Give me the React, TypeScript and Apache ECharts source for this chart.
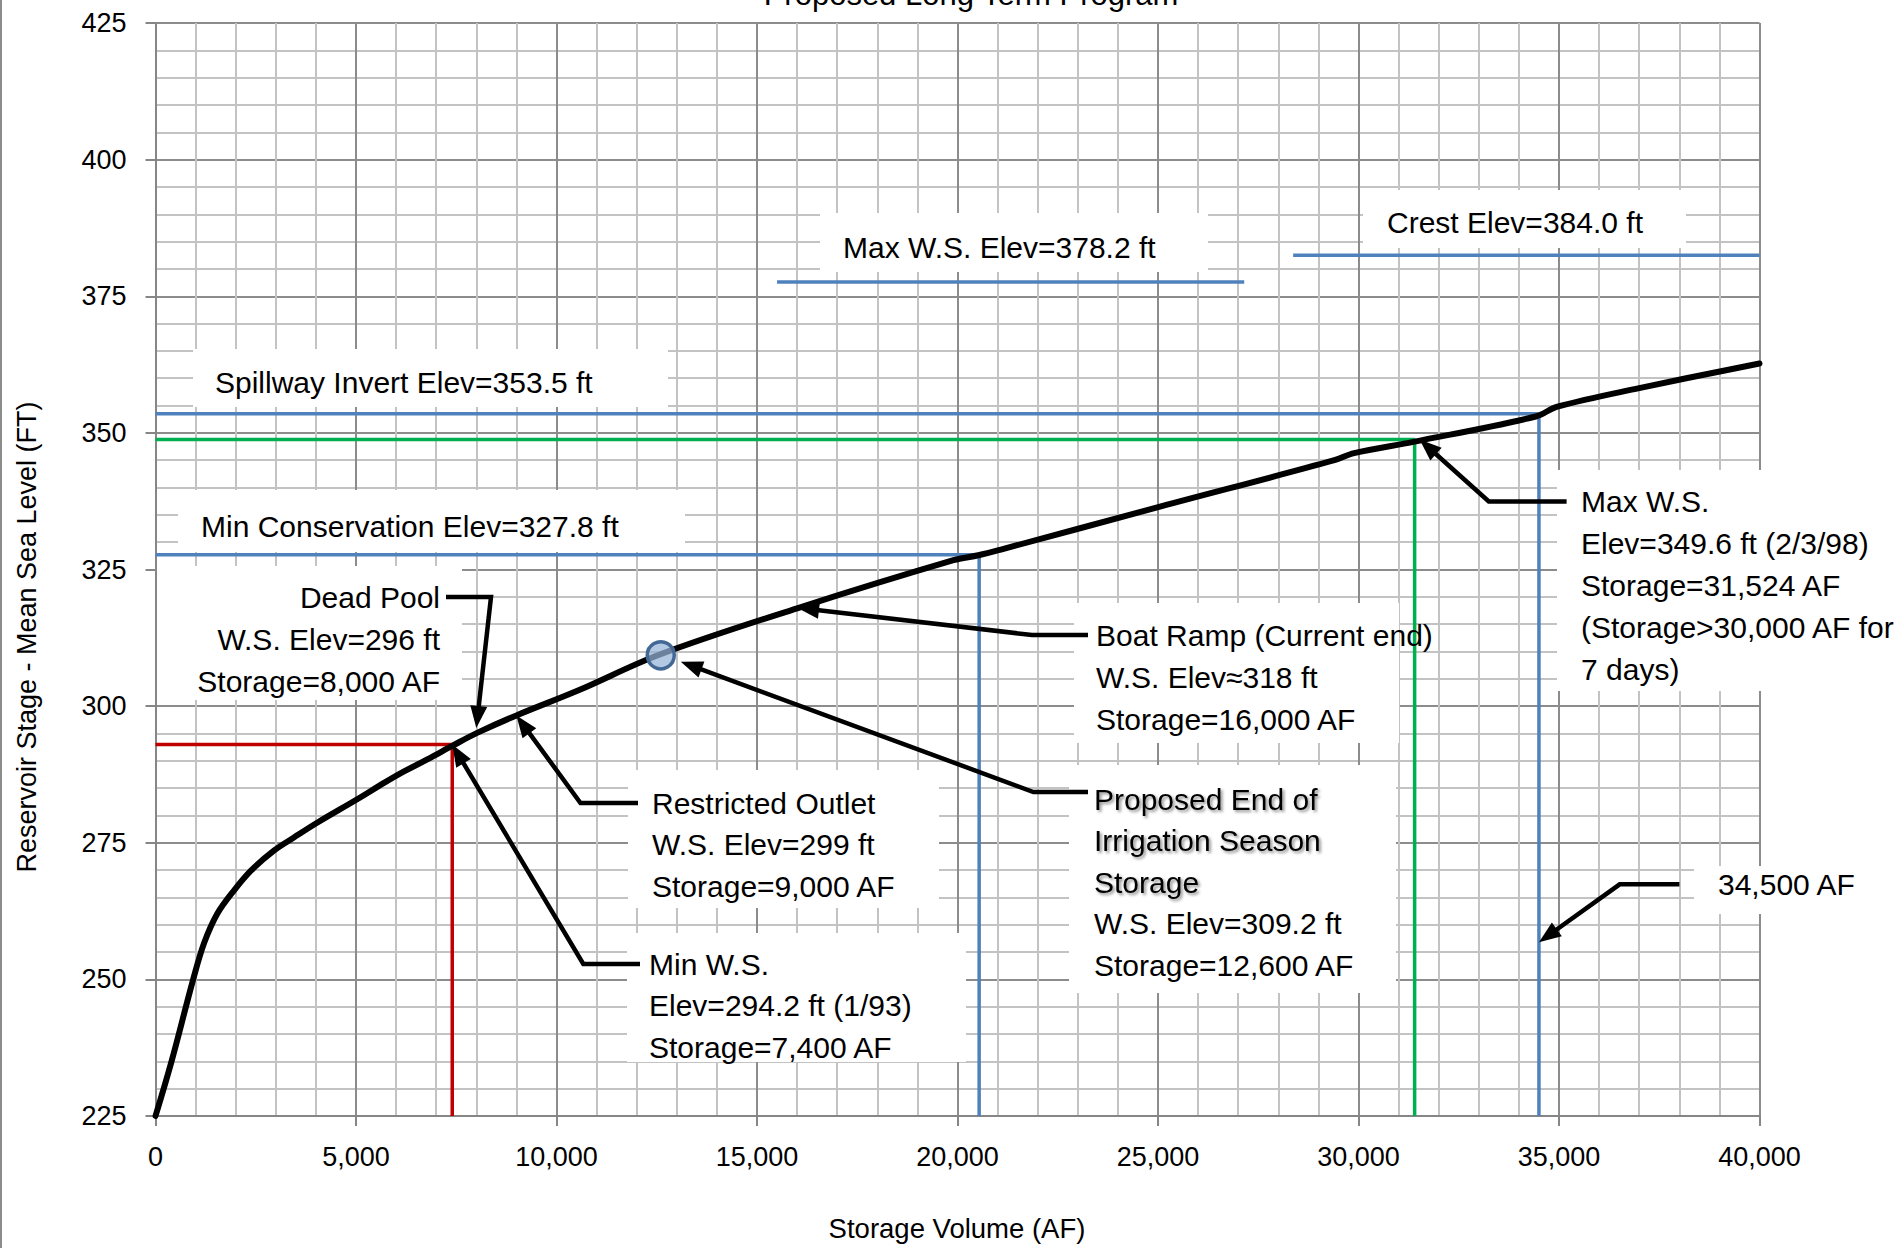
import React, { useEffect, useRef } from "react";
import * as echarts from "echarts";

// ---------- data ----------
const storageAF = [0, 400, 940, 1210, 1540, 1960, 2380, 2960, 3460, 4040, 5040, 5710, 6210, 6790, 7420, 8020, 9000, 10550, 12560, 16000, 19900, 20520, 21060, 25050, 29400, 29890, 31400, 34420, 34960, 37000, 40000];
const stageFt = [225, 235, 250, 256.6, 262.0, 266.3, 269.9, 273.6, 276.0, 278.7, 283.0, 286.0, 288.1, 290.3, 292.8, 295.1, 298.3, 302.9, 309.4, 317.9, 326.7, 327.6, 328.6, 336.5, 345.0, 346.3, 348.4, 353.0, 354.8, 358.2, 362.7];

// drop lines (horizontal from axis to storage, then vertical to bottom)
const dropNames = ["Min W.S.", "Min Conservation", "Max W.S. (2/3/98)", "Spillway Invert"];
const dropStorage = [7400, 20540, 31400, 34500];
const dropStage = [293.0, 327.7, 348.8, 353.5];

// level segments
const levelNames = ["Max W.S. Elev", "Crest Elev"];
const levelFrom = [15500, 28370];
const levelTo = [27150, 40000];
const levelStage = [377.6, 382.5];

// marked point
const irrigationEnd = [12600, 309.3];

// callout arrow tips (storage, stage)
const tipStorage = [8000, 9000, 7400, 16000, 13100, 31524, 34500];
const tipStage = [296, 298.3, 293, 318, 308.1, 348.8, 256.8];

const xTicks = [0, 5000, 10000, 15000, 20000, 25000, 30000, 35000, 40000];
const yTicks = [225, 250, 275, 300, 325, 350, 375, 400, 425];

const titleText = "Proposed Long Term Program";
const xName = "Storage Volume (AF)";
const yName = "Reservoir Stage - Mean Sea Level (FT)";

// ---------- layout ----------
const GL = 155.5, GT = 23, GW = 1604, GH = 1093;
const X0 = xTicks[0], X1 = xTicks[xTicks.length - 1];
const Y0 = yTicks[0], Y1 = yTicks[yTicks.length - 1];
const FONT = "Liberation Sans, Arial, sans-serif";

const BLUE = "#4f81bd", GREEN = "#00b050", RED = "#c00000";
const dropColors = [RED, BLUE, GREEN, BLUE];

export default function App() {
  const ref = useRef<HTMLDivElement>(null);

  useEffect(() => {
    if (!ref.current) return;
    const chart = echarts.init(ref.current, null, { renderer: "svg" });

    const px = (v: number) => GL + ((v - X0) / (X1 - X0)) * GW;
    const py = (e: number) => GT + ((Y1 - e) / (Y1 - Y0)) * GH;

    const rect = (x: number, y: number, w: number, h: number) => ({
      type: "rect", shape: { x, y, width: w, height: h }, style: { fill: "#fff" }, z: 1, silent: true,
    });
    const text = (t: string, x: number, cy: number, align = "left", lh = 42, size = 30) => ({
      type: "text", x, y: cy - lh / 2, z: 10,
      style: { text: t, fontSize: size, fontFamily: FONT, fill: "#000", align, verticalAlign: "top", lineHeight: lh },
    });
    const arrow = (pts: number[][]) => {
      const [ex, ey] = pts[pts.length - 2];
      const [tx, ty] = pts[pts.length - 1];
      const dx = tx - ex, dy = ty - ey;
      const len = Math.hypot(dx, dy);
      const ux = dx / len, uy = dy / len;
      const L = 22, Wd = 8.5;
      const bx = tx - ux * L, by = ty - uy * L;
      const head = [[tx, ty], [bx - uy * Wd, by + ux * Wd], [bx + uy * Wd, by - ux * Wd]];
      const shaft = [...pts.slice(0, -1), [tx - ux * L * 0.7, ty - uy * L * 0.7]];
      return [
        { type: "polyline", z: 10, shape: { points: shaft }, style: { stroke: "#000", lineWidth: 4.5, lineJoin: "miter" } },
        { type: "polygon", z: 10, shape: { points: head }, style: { fill: "#000" } },
      ];
    };
    const tip = (i: number) => [px(tipStorage[i]), py(tipStage[i])];

    const graphics: any[] = [
      { type: "line", shape: { x1: 1, y1: 0, x2: 1, y2: 1248 }, style: { stroke: "#8c8c8c", lineWidth: 2 }, z: 1 },
      {
        type: "text", x: 971, y: -6, z: 10,
        style: { text: titleText, fontSize: 31, fontFamily: FONT, fill: "#000", align: "center", verticalAlign: "middle" },
      },
      {
        type: "text", x: 957, y: 1228, z: 10,
        style: { text: xName, fontSize: 27.5, fontFamily: FONT, fill: "#000", align: "center", verticalAlign: "middle" },
      },
      {
        type: "text", x: 27, y: 637, rotation: Math.PI / 2, z: 10,
        style: { text: yName, fontSize: 27, fontFamily: FONT, fill: "#000", align: "center", verticalAlign: "middle" },
      },
      // boxes
      rect(193, 349, 475, 58),
      rect(178, 490, 507, 62),
      rect(820, 213, 388, 59),
      rect(1363, 190, 323, 58),
      rect(157, 566, 305, 134),
      rect(628, 770, 311, 138),
      rect(627, 933, 339, 129),
      rect(1074, 603, 325, 140),
      rect(1069, 765, 327, 228),
      rect(1557, 470, 347, 221),
      rect(1694, 866, 210, 48),
      // single-line labels
      text("Spillway Invert Elev=353.5 ft", 215, 382),
      text("Min Conservation Elev=327.8 ft", 201, 526),
      text("Max W.S. Elev=378.2 ft", 843, 247),
      text("Crest Elev=384.0 ft", 1387, 222),
      text("34,500 AF", 1718, 884),
      // multi-line callouts
      text("Dead Pool\nW.S. Elev=296 ft\nStorage=8,000 AF", 440, 597, "right", 42),
      text("Restricted Outlet\nW.S. Elev=299 ft\nStorage=9,000 AF", 652, 803, "left", 41.5),
      text("Min W.S.\nElev=294.2 ft (1/93)\nStorage=7,400 AF", 649, 964, "left", 41.5),
      text("Boat Ramp (Current end)\nW.S. Elev\u2248318 ft\nStorage=16,000 AF", 1096, 635, "left", 42),
      text("Max W.S.\nElev=349.6 ft (2/3/98)\nStorage=31,524 AF\n(Storage>30,000 AF for\n7 days)", 1581, 502, "left", 41.8),
      {
        type: "text", x: 1094, y: 799 - 20.75, z: 10,
        style: {
          text: "{b|Proposed End of}\n{b|Irrigation Season}\n{b|Storage}\n{n|W.S. Elev=309.2 ft}\n{n|Storage=12,600 AF}",
          align: "left", verticalAlign: "top", fontSize: 30, fontFamily: FONT, fill: "#000",
          rich: {
            b: {
              fontSize: 30, fontFamily: FONT, fill: "#000", lineHeight: 41.5,
              textShadowColor: "rgba(0,0,0,0.45)", textShadowBlur: 3, textShadowOffsetX: 2, textShadowOffsetY: 2,
            },
            n: { fontSize: 30, fontFamily: FONT, fill: "#000", lineHeight: 41.5 },
          },
        },
      },
      // arrows
      ...arrow([[446, 597], [491, 597], tip(0)]),
      ...arrow([[638, 803], [580.5, 803], tip(1)]),
      ...arrow([[640, 964], [583.3, 964], tip(2)]),
      ...arrow([[1088, 635], [1032, 635], tip(3)]),
      ...arrow([[1088, 792], [1033.4, 792], tip(4)]),
      ...arrow([[1566.6, 501.4], [1488.8, 501.4], tip(5)]),
      ...arrow([[1679.4, 884.3], [1619.7, 884.3], tip(6)]),
    ];

    const series: any[] = [];
    dropStorage.forEach((s, i) => {
      series.push({
        name: dropNames[i], type: "line", symbol: "none", z: 2,
        data: [[X0, dropStage[i]], [s, dropStage[i]], [s, Y0]],
        lineStyle: { color: dropColors[i], width: 3.5 },
      });
    });
    levelStage.forEach((e, i) => {
      series.push({
        name: levelNames[i], type: "line", symbol: "none", z: 2,
        data: [[levelFrom[i], e], [levelTo[i], e]],
        lineStyle: { color: BLUE, width: 3.5 },
      });
    });
    series.push({
      name: "Stage-Storage", type: "line", symbol: "none", z: 3, smooth: 0.35,
      data: storageAF.map((s, i) => [s, stageFt[i]]),
      lineStyle: { color: "#000", width: 6, join: "round", cap: "round" },
    });
    series.push({
      name: "Proposed End of Irrigation Season Storage", type: "scatter", z: 4,
      data: [irrigationEnd], symbolSize: 27,
      itemStyle: { color: "rgba(149,179,215,0.72)", borderColor: "#436895", borderWidth: 3.5, opacity: 1 },
    });

    const axisGray = "#868686";
    chart.setOption({
      animation: false,
      backgroundColor: "#fff",
      grid: { left: GL, top: GT, width: GW, height: GH, containLabel: false },
      xAxis: {
        type: "value", min: X0, max: X1, interval: 5000,
        axisLine: { show: true, lineStyle: { color: axisGray, width: 2 } },
        axisTick: { show: true, length: 10, lineStyle: { color: axisGray, width: 2 } },
        axisLabel: {
          margin: 27, fontSize: 27, fontFamily: FONT, color: "#000",
          formatter: (v: number) => v.toLocaleString("en-US"),
        },
        splitLine: { show: true, lineStyle: { color: "#8c8c8c", width: 2 } },
        minorTick: { show: false, splitNumber: 5 },
        minorSplitLine: { show: true, lineStyle: { color: "#c3c3c3", width: 2 } },
      },
      yAxis: {
        type: "value", min: Y0, max: Y1, interval: 25,
        axisLine: { show: true, lineStyle: { color: axisGray, width: 2 } },
        axisTick: { show: true, length: 10, lineStyle: { color: axisGray, width: 2 } },
        axisLabel: { margin: 29, fontSize: 27, fontFamily: FONT, color: "#000" },
        splitLine: { show: true, lineStyle: { color: "#8c8c8c", width: 2 } },
        minorTick: { show: false, splitNumber: 5 },
        minorSplitLine: { show: true, lineStyle: { color: "#c3c3c3", width: 2 } },
      },
      series,
      graphic: { elements: graphics },
    });

    return () => chart.dispose();
  }, []);

  return <div ref={ref} style={{ position: "fixed", left: 0, top: 0, width: 1904, height: 1248, background: "#fff" }} />;
}
